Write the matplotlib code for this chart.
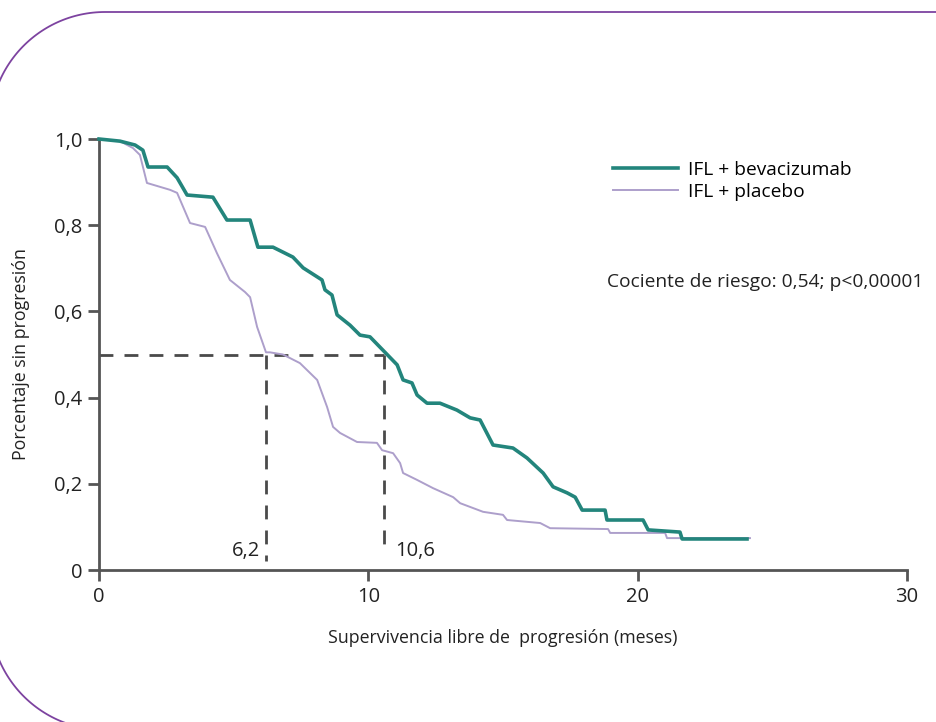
import matplotlib
matplotlib.use("Agg")
import matplotlib.pyplot as plt
from matplotlib.lines import Line2D
from matplotlib.transforms import IdentityTransform
import numpy as np

plt.rcParams['font.family'] = ['Open Sans', 'DejaVu Sans']

# curva IFL + bevacizumab (meses, proporcion sin progresion)
bev_t = [0, 0.78, 1.34, 1.63, 1.82, 2.53, 2.90, 3.27, 4.23, 4.75, 5.61, 5.90, 6.46,
         7.20, 7.58, 8.28, 8.39, 8.65, 8.84, 9.32, 9.69, 10.06, 10.62, 11.07, 11.29,
         11.62, 11.81, 12.18, 12.66, 13.29, 13.78, 14.15, 14.63, 15.37, 15.89, 16.49,
         16.86, 17.38, 17.68, 17.94, 18.79, 18.86, 20.20, 20.39, 21.57, 21.65, 24.06]
bev_s = [1.0, 0.995, 0.986, 0.974, 0.935, 0.935, 0.910, 0.870, 0.865, 0.812, 0.812,
         0.749, 0.749, 0.726, 0.701, 0.673, 0.650, 0.638, 0.592, 0.568, 0.545, 0.541,
         0.505, 0.476, 0.441, 0.434, 0.406, 0.387, 0.387, 0.371, 0.353, 0.348, 0.290,
         0.283, 0.260, 0.225, 0.193, 0.179, 0.169, 0.139, 0.139, 0.116, 0.116, 0.093,
         0.088, 0.072, 0.072]

# curva IFL + placebo
pla_t = [0, 0.78, 1.26, 1.52, 1.78, 2.64, 2.90, 3.38, 3.94, 4.38, 4.86, 5.42, 5.61,
         5.87, 6.2, 6.35, 6.83, 7.46, 8.10, 8.47, 8.69, 8.95, 9.58, 10.32, 10.51,
         10.92, 11.18, 11.29, 11.81, 12.40, 13.15, 13.41, 14.26, 15.00, 15.15, 16.38,
         16.75, 18.90, 18.98, 21.02, 21.09, 24.17]
pla_s = [1.0, 0.995, 0.979, 0.963, 0.898, 0.882, 0.875, 0.805, 0.796, 0.735, 0.673,
         0.645, 0.633, 0.564, 0.505, 0.505, 0.500, 0.480, 0.441, 0.378, 0.332, 0.318,
         0.297, 0.295, 0.278, 0.271, 0.248, 0.225, 0.209, 0.190, 0.169, 0.155, 0.135,
         0.128, 0.116, 0.109, 0.097, 0.095, 0.086, 0.086, 0.074, 0.074]

medianas = [6.2, 10.6]
median_labels = ['6,2', '10,6']
yticks = [0, 0.2, 0.4, 0.6, 0.8, 1.0]
ytick_labels = ['0', '0,2', '0,4', '0,6', '0,8', '1,0']
xticks = [0, 10, 20, 30]

teal = '#23857c'
lila = '#ad9fcb'
gris = '#4a4a4a'

fig = plt.figure(figsize=(9.37, 7.22), dpi=100)
ax = fig.add_axes([99/937, 1-570/722, 808/937, 431/722])

# marco morado: esquinas izquierdas redondeadas (en pixeles)
r = 115
th1 = np.linspace(np.pi / 2, np.pi, 60)
th2 = np.linspace(np.pi, 1.5 * np.pi, 60)
fx = np.concatenate([[960], 105 + r * np.cos(th1), 105 + r * np.cos(th2)])
fy = np.concatenate([[710], 595 + r * np.sin(th1), 107 + r * np.sin(th2)])
fig.lines.append(Line2D(fx, fy, transform=IdentityTransform(), color='#7d43a0', lw=1.3))

# lineas de mediana
ax.plot([0, medianas[1]], [0.5, 0.5], color=gris, lw=2, dashes=(5, 4), zorder=1)
ax.plot([medianas[0], medianas[0]], [0.5, 0.02], color=gris, lw=2, dashes=(5, 4), zorder=1)
ax.plot([medianas[1], medianas[1]], [0.5, 0.04], color=gris, lw=2, dashes=(5, 4), zorder=1)
ax.text(medianas[0] - 0.2, 0.045, median_labels[0], ha='right', va='center', fontsize=14.5, color='#222222')
ax.text(medianas[1] + 0.4, 0.045, median_labels[1], ha='left', va='center', fontsize=14.5, color='#222222')

ax.plot(pla_t, pla_s, color=lila, lw=1.4, label='IFL + placebo', clip_on=False, zorder=2)
ax.plot(bev_t, bev_s, color=teal, lw=2.6, label='IFL + bevacizumab', clip_on=False, zorder=3)

ax.set_xlim(0, 30)
ax.set_ylim(0, 1)
ax.set_xticks(xticks)
ax.set_xticklabels([str(v) for v in xticks], fontsize=14.5)
ax.set_yticks(yticks)
ax.set_yticklabels(ytick_labels, fontsize=14.5)
ax.tick_params(axis='both', length=8, width=2, color='#555555', labelcolor='#222222', pad=4)
for s in ['top', 'right']:
    ax.spines[s].set_visible(False)
for s in ['left', 'bottom']:
    ax.spines[s].set_color('#555555')
    ax.spines[s].set_linewidth(2)

ax.set_xlabel('Supervivencia libre de  progresión (meses)', fontsize=12.8, color='#222222', labelpad=16)
ax.set_ylabel('Porcentaje sin progresión', fontsize=12.8, color='#222222', labelpad=17)

handles, labels = ax.get_legend_handles_labels()
fig.legend(handles[::-1], labels[::-1], loc='upper left', bbox_to_anchor=(613/937, 1-161/722),
           frameon=False, fontsize=13.8, handlelength=3.4, handletextpad=0.5,
           borderpad=0, borderaxespad=0, labelspacing=0.2)

fig.text(607/937, 1-282/722, 'Cociente de riesgo: 0,54; p<0,00001', fontsize=13.8,
         ha='left', va='center', color='#222222')

fig.savefig('out.png', dpi=100)
